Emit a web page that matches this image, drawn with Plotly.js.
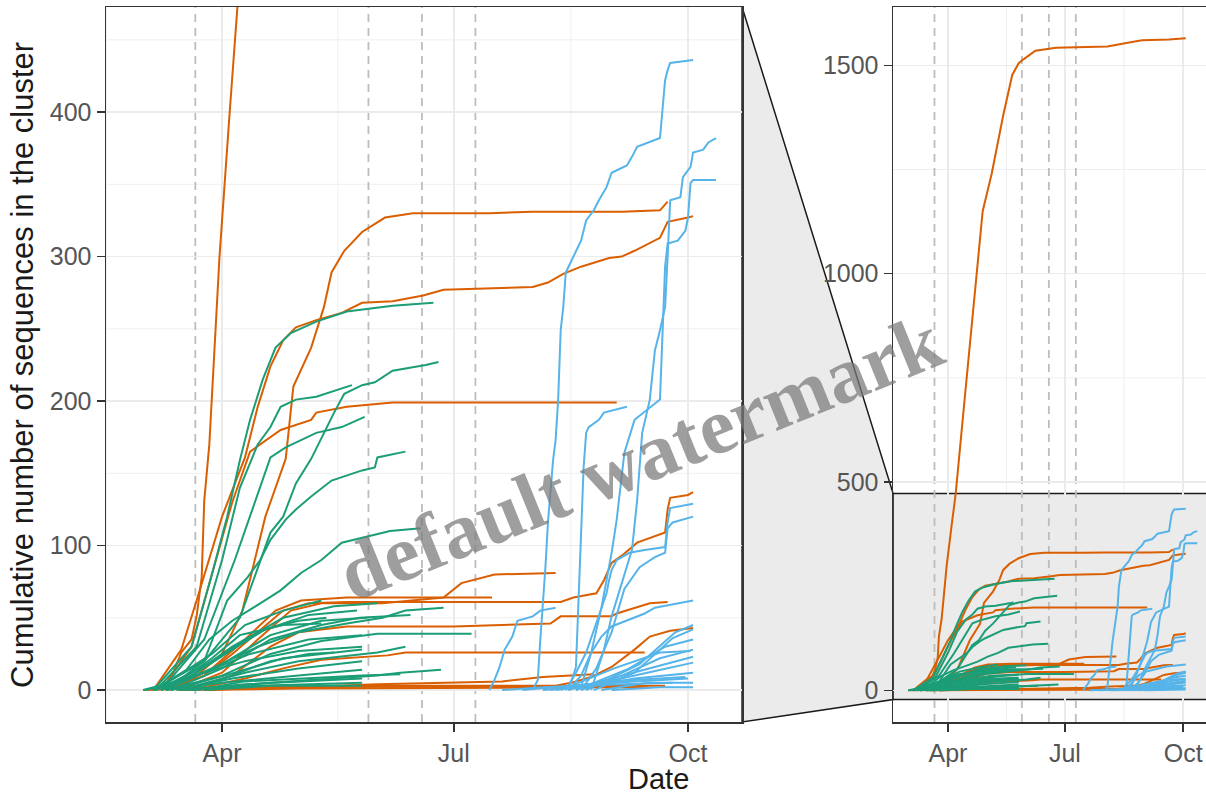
<!DOCTYPE html>
<html>
<head>
<meta charset="utf-8">
<script src="https://cdn.plot.ly/plotly-3.0.1.min.js"></script>
<style>html,body{margin:0;padding:0;background:#fff;}#chart{width:1206px;height:796px;}</style>
</head>
<body>
<div id="chart"></div>
<script>
// ---------------- DATA (dates are 2020, "MM-DD") ----------------
const orangeDates = [
  ['03-10','03-16','03-20','03-22','03-24','03-25','03-27','03-29','03-31','04-04','04-07','04-14','04-20','04-23','04-28','05-05','05-10','05-14','05-21','05-26','05-30','06-08','06-24','08-03','08-20','08-30','09-20','10-03'],
  ['03-10','03-22','04-01','04-09','04-18','04-26','04-29','05-06','05-11','05-14','05-19','05-26','06-04','06-15','07-15','08-01','09-05','09-20','09-23'],
  ['03-05','03-16','03-22','04-01','04-10','04-15','04-20','04-25','04-30','05-08','05-18','05-26','06-07','06-19','06-27','08-01','08-07','08-13','08-20','08-31','09-05','09-10','09-20','09-23','10-01','10-03'],
  ['03-08','03-20','03-28','04-05','04-12','04-24','05-06','05-08','05-20','06-07','09-03'],
  ['03-10','03-25','04-05','04-15','04-25','05-05','05-20','08-12','08-17','08-26','08-29','09-01','09-05','09-11','09-16','09-22','09-23','09-24','10-01','10-03'],
  ['03-12','03-28','04-10','04-22','05-02','05-20','07-16'],
  ['03-15','04-01','04-15','04-28','05-10','06-03','06-27','07-04','07-17','08-10'],
  ['03-18','04-05','04-20','05-01','05-20','07-01','08-08','08-12','09-01','09-03','09-16','09-23'],
  ['03-20','04-10','04-25','05-10','06-05','06-12','09-14'],
  ['03-25','04-20','06-01','08-10','08-16','08-24','09-01','09-10','09-16','09-24','10-03'],
  ['03-01','04-15','09-22'],
  ['03-15','05-01','09-15'],
  ['03-25','06-01','07-20','08-05','08-25']
];
const orangeCounts = [
  [0,26,35,51,78,131,170,240,300,400,472,700,900,1000,1150,1240,1320,1380,1477,1505,1515,1535,1542,1545,1555,1560,1562,1565],
  [0,10,25,55,120,160,210,237,265,289,304,317,327,330,330,331,331,332,338],
  [0,28,62,120,161,196,224,242,251,256,261,268,269,273,277,279,282,288,293,299,300,304,313,324,327,328],
  [0,30,80,130,165,180,187,192,196,199,199],
  [0,10,25,40,55,60,61,61,64,67,76,88,93,102,105,109,125,133,135,137],
  [0,15,35,55,62,64,64],
  [0,12,35,55,60,60,64,74,80,81],
  [0,10,30,40,44,44,46,51,51,53,60,61],
  [0,8,15,21,24,26,26],
  [0,2,3,3,5,9,16,28,37,41,43],
  [0,2,3],
  [0,1,2],
  [0,4,6,9,11]
];
const greenDates = [
  ['03-05','03-20','03-28','04-03','04-08','04-12','04-17','04-22','04-28','05-08','05-20','06-07','06-23'],
  ['03-05','03-25','04-08','04-15','04-20','04-25','04-30','05-06','05-11','05-15','05-19','05-26','05-31','06-07','06-20','06-25'],
  ['03-06','03-22','04-01','04-08','04-15','04-20','04-24','04-30','05-08','05-22'],
  ['03-08','03-25','04-06','04-14','04-20','04-26','05-08','05-18','05-27'],
  ['03-10','03-25','04-03','04-11','04-16','04-20','04-26','04-30','05-06','05-14','05-26','05-31','06-01','06-12'],
  ['03-05','03-18','03-27','04-05','04-16','04-24','05-02','05-10','05-18','06-06','06-18'],
  ['03-08','03-28','04-15','05-01','05-20','06-03','06-12','06-27'],
  ['03-10','04-01','04-20','05-10','06-01','07-08'],
  ['03-12','04-01','04-20','05-10','05-25','06-14'],
  ['03-15','04-10','05-01','06-01','06-12'],
  ['03-20','04-20','06-01','06-10','06-26'],
  ['03-05','03-20','04-05','04-25','05-15','06-01'],
  ['03-08','03-28','04-15','05-05','05-24'],
  ['03-10','04-01','04-20','05-10','05-28'],
  ['03-05','03-25','04-12','05-05','05-26'],
  ['03-12','04-02','04-25','05-26'],
  ['03-14','04-05','05-01','05-26'],
  ['03-10','04-01','05-01','05-26'],
  ['03-16','04-10','05-26'],
  ['03-18','04-15','05-26'],
  ['03-06','03-28','04-10','04-25','05-10'],
  ['03-20','04-08','04-20','05-05','05-15'],
  ['03-22','04-10','05-26','06-10'],
  ['03-25','04-20','05-26'],
  ['03-08','03-22','04-05','04-18','05-01','05-12'],
  ['03-02','03-15','03-25','04-10','05-01','05-26'],
  ['03-01','03-12','03-20','03-28','04-08','04-25','05-10']
];
const greenCounts = [
  [0,30,80,120,159,187,215,237,247,255,262,266,268],
  [0,20,50,85,109,120,143,160,178,192,205,211,213,221,225,227],
  [0,30,90,140,170,182,196,201,203,211],
  [0,35,90,130,161,168,178,182,189],
  [0,20,62,78,90,104,118,125,134,145,152,154,161,165],
  [0,14,35,48,60,69,81,90,102,110,112],
  [0,15,30,40,46,50,55,57],
  [0,10,25,34,39,39],
  [0,15,35,45,50,52],
  [0,12,20,26,30],
  [0,5,10,12,14],
  [0,10,30,50,58,60],
  [0,20,40,52,55],
  [0,18,38,48,50],
  [0,12,25,35,38],
  [0,10,22,28],
  [0,8,15,20],
  [0,5,10,14],
  [0,4,8],
  [0,3,5],
  [0,25,45,55,62],
  [0,12,20,25,26],
  [0,6,10,11],
  [0,3,3],
  [0,12,28,42,48,50],
  [0,6,12,20,27,30],
  [0,5,12,22,38,45,46]
];
const blueDates = [
  ['08-01','08-03','08-04','08-05','08-06','08-07','08-09','08-10','08-11','08-12','08-13','08-14','08-17','08-20','08-22','08-25','08-27','08-30','09-01','09-05','09-07','09-09','09-11','09-20','09-21','09-22','09-23','09-24','10-03'],
  ['08-24','08-29','09-01','09-05','09-09','09-11','09-13','09-16','09-18','09-20','09-22','09-23','09-24','09-28','09-29','10-02','10-03','10-07','10-09','10-12'],
  ['08-18','08-20','08-24','08-27','08-28','08-30','09-01','09-03','09-06','09-10','09-20','09-21','09-22','09-23','09-27','09-30','10-01','10-02','10-03','10-12'],
  ['08-14','08-16','08-18','08-19','08-20','08-21','08-22','08-23','08-27','08-29','09-07'],
  ['08-15','08-20','08-24','08-28','09-01','09-07','09-14','09-18','10-03'],
  ['08-14','08-18','08-22','08-26','08-28','08-30','08-31','09-01','09-03','09-08','09-14','09-22','09-23','09-24','10-03'],
  ['08-20','08-26','09-01','09-06','09-12','09-18','09-22','09-23','09-25','10-03'],
  ['07-15','07-17','07-19','07-21','07-24','07-26','08-01','08-04','08-10'],
  ['08-05','08-25','09-10','10-03'],
  ['08-10','08-28','09-15','10-03'],
  ['08-15','09-01','09-18','10-03'],
  ['08-20','09-05','09-20','10-03'],
  ['08-18','09-08','09-22','10-03'],
  ['08-25','09-10','09-25','10-03'],
  ['08-28','09-15','10-03'],
  ['09-01','09-20','10-03'],
  ['08-08','08-30','09-30'],
  ['07-28','08-15','09-10','10-01'],
  ['08-22','09-12','09-26','10-03'],
  ['07-20','08-05','09-05','09-25'],
  ['08-12','09-02','09-20','10-02']
];
const blueCounts = [
  [0,7,35,57,85,116,159,173,201,249,265,289,300,311,325,332,339,348,358,361,363,369,376,382,403,422,429,434,436],
  [0,28,51,74,97,131,178,201,235,249,265,300,339,341,355,362,372,374,379,382],
  [0,2,26,48,57,76,95,118,164,187,201,247,293,309,311,318,327,351,353,353],
  [0,5,16,62,109,154,178,182,187,192,196],
  [0,10,26,37,44,48,53,57,62],
  [0,12,26,46,57,67,76,83,90,95,97,99,116,126,129],
  [0,15,40,70,85,92,95,112,116,120],
  [0,7,16,28,37,48,51,55,57],
  [0,3,8,12],
  [0,5,12,19],
  [0,8,16,23],
  [0,10,22,28],
  [0,15,30,35],
  [0,12,36,42],
  [0,5,5],
  [0,2,2],
  [0,6,9],
  [0,3,6,8],
  [0,18,40,45],
  [0,2,4,5],
  [0,15,26,27]
];
const markerDates = ['2020-03-21 12:00','2020-05-28 12:00','2020-06-18 12:00','2020-07-09 12:00'];
const xTickVals = ['2020-04-01','2020-07-01','2020-10-01'];
const xTickText = ['Apr','Jul','Oct'];
const xMinor = ['2020-02-15 12:00','2020-05-16 12:00','2020-08-16'];
const yTicks = [0,100,200,300,400];
const yMinor = [50,150,250,350,450];
const y2Ticks = [0,500,1000,1500];
const y2Minor = [250,750,1250];
const yTitle = 'Cumulative number of sequences in the cluster';
const xTitle = 'Date';
const watermark = 'default watermark';

// ---------------- PLOT ----------------
const W = 1206, H = 796;
const colors = {orange:'#d95f02', green:'#1b9e77', blue:'#56b4e9'};
const xRange = ['2020-02-15 10:00','2020-10-22 05:00'];
const x2Range = ['2020-02-18 05:00','2020-10-18 19:00'];
const yRange = [-22.1, 472.7];
const y2Range = [-76, 1640];

const traces = [];
function addGroup(dates, counts, color){
  dates.forEach((ds,i)=>{
    const xs = ds.map(d=>'2020-'+d);
    [['x','y'],['x2','y2']].forEach(([xa,ya])=>{
      traces.push({type:'scatter',mode:'lines',x:xs,y:counts[i],xaxis:xa,yaxis:ya,
        line:{color:color,width:2},hoverinfo:'skip',showlegend:false});
    });
  });
}
addGroup(orangeDates, orangeCounts, colors.orange);
addGroup(greenDates, greenCounts, colors.green);
addGroup(blueDates, blueCounts, colors.blue);

const shapes = [];
const minorLine = {color:'#efefef', width:1};
[['x','y'],['x2','y2']].forEach(([xa,ya])=>{
  xMinor.forEach(d=>shapes.push({type:'line',layer:'below',xref:xa,yref:ya+' domain',x0:d,x1:d,y0:0,y1:1,line:minorLine}));
});
yMinor.forEach(v=>shapes.push({type:'line',layer:'below',xref:'x domain',yref:'y',x0:0,x1:1,y0:v,y1:v,line:minorLine}));
y2Minor.forEach(v=>shapes.push({type:'line',layer:'below',xref:'x2 domain',yref:'y2',x0:0,x1:1,y0:v,y1:v,line:minorLine}));
// zoom rectangle in right panel
shapes.push({type:'rect',layer:'below',xref:'x2 domain',yref:'y2',x0:0,x1:1,y0:yRange[0],y1:yRange[1],fillcolor:'#ebebeb',line:{width:0}});
shapes.push({type:'line',layer:'below',xref:'x2 domain',yref:'y2',x0:0,x1:1,y0:yRange[1],y1:yRange[1],line:{color:'#1a1a1a',width:1.5}});
shapes.push({type:'line',layer:'below',xref:'x2 domain',yref:'y2',x0:0,x1:1,y0:yRange[0],y1:yRange[0],line:{color:'#1a1a1a',width:1.5}});
// dashed reference lines
[['x','y'],['x2','y2']].forEach(([xa,ya])=>{
  markerDates.forEach(d=>shapes.push({type:'line',layer:'below',xref:xa,yref:ya+' domain',x0:d,x1:d,y0:0,y1:1,line:{color:'#bdbdbd',width:1.8,dash:'8px,6px'}}));
});
// connector trapezoid
const yTopPx = 722 - (yRange[1]-y2Range[0])*(715/(y2Range[1]-y2Range[0]));
const yBotPx = 722 - (yRange[0]-y2Range[0])*(715/(y2Range[1]-y2Range[0]));
const P = (x,y)=>(x/W).toFixed(4)+','+(1-y/H).toFixed(4);
shapes.push({type:'path',layer:'below',xref:'paper',yref:'paper',
  path:'M '+P(742,7)+' L '+P(893,yTopPx)+' L '+P(893,yBotPx)+' L '+P(742,722)+' Z',
  fillcolor:'#ebebeb',line:{color:'#1a1a1a',width:1.5}});

const tickfont = {family:'Liberation Sans, Arial, sans-serif', size:25, color:'#555555'};
const common = {showline:true, linecolor:'#333333', linewidth:1.5, ticks:'outside', ticklen:8, tickwidth:1.5,
  tickcolor:'#333333', showgrid:true, gridcolor:'#ebebeb', gridwidth:1.6, zeroline:false, tickfont:tickfont, fixedrange:true};
const yDomain = [1-722/H, 1-7/H];

const layout = {
  width:W, height:H, margin:{l:0,r:0,t:0,b:0}, paper_bgcolor:'#ffffff', plot_bgcolor:'#ffffff', showlegend:false,
  xaxis:Object.assign({}, common, {type:'date', domain:[106/W, 742/W], range:xRange, tickmode:'array', tickvals:xTickVals, ticktext:xTickText, mirror:true, anchor:'y'}),
  yaxis:Object.assign({}, common, {domain:yDomain, range:yRange, tickmode:'array', tickvals:yTicks, ticktext:yTicks.map(String), mirror:true, anchor:'x'}),
  xaxis2:Object.assign({}, common, {type:'date', domain:[893/W, 1], range:x2Range, tickmode:'array', tickvals:xTickVals, ticktext:xTickText, mirror:true, anchor:'y2'}),
  yaxis2:Object.assign({}, common, {domain:yDomain, range:y2Range, tickmode:'array', tickvals:y2Ticks, ticktext:y2Ticks.map(String), mirror:false, anchor:'x2'}),
  shapes:shapes,
  annotations:[
    {text:yTitle, xref:'paper', yref:'paper', x:22/W, y:1-365/H, textangle:-90, showarrow:false, xanchor:'center', yanchor:'middle',
      font:{family:'Liberation Sans, Arial, sans-serif', size:31, color:'#1a1a1a'}},
    {text:xTitle, xref:'paper', yref:'paper', x:658/W, y:1-779/H, showarrow:false, xanchor:'center', yanchor:'middle',
      font:{family:'Liberation Sans, Arial, sans-serif', size:29, color:'#1a1a1a'}},
    {text:'<b>'+watermark+'</b>', xref:'paper', yref:'paper', x:640/W, y:1-457/H, textangle:-22, showarrow:false, xanchor:'center', yanchor:'middle',
      font:{family:'Liberation Serif, Times New Roman, serif', size:80, color:'rgba(120,120,120,0.72)'}}
  ]
};
Plotly.newPlot('chart', traces, layout, {displayModeBar:false, staticPlot:true});
</script>
</body>
</html>
